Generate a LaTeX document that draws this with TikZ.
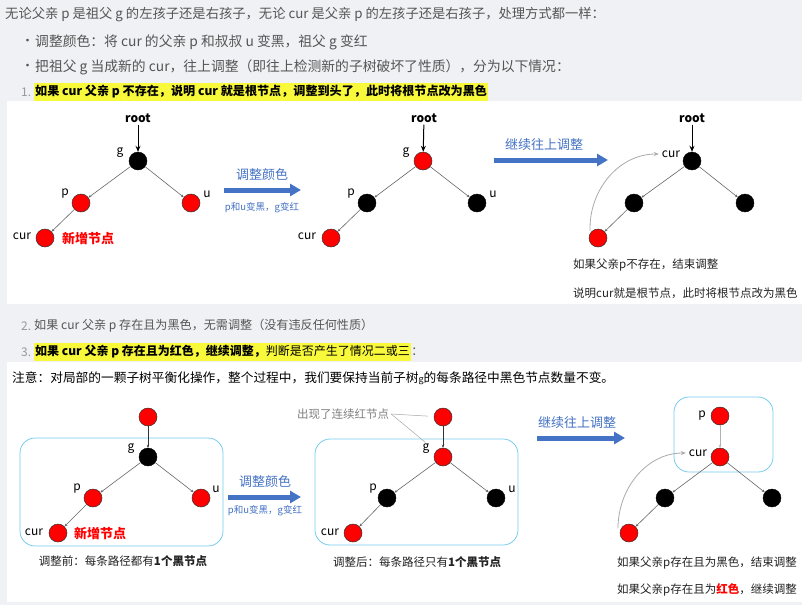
\documentclass[tikz,border=0pt]{standalone}
\usepackage{fontspec}
\newfontfamily\cjk{Noto Sans CJK SC}
\usetikzlibrary{arrows.meta}
\definecolor{pagebg}{HTML}{F0F1F5}
\definecolor{hdrgray}{HTML}{555555}
\definecolor{numgray}{HTML}{999999}
\definecolor{edgegray}{HTML}{666666}
\definecolor{curvegray}{HTML}{AAAAAA}
\definecolor{arrowblue}{HTML}{4472C4}
\definecolor{nodered}{HTML}{FF0000}
\definecolor{nodeedge}{HTML}{333333}
\definecolor{boxcyan}{HTML}{78CDEE}
\definecolor{hl}{HTML}{F9F93C}
\definecolor{capblack}{HTML}{222222}
\newcommand\fsz[1]{\fontsize{#1}{#1}\selectfont}
\begin{document}
\begin{tikzpicture}[x=1pt,y=-1pt,
  every node/.style={font=\cjk, inner sep=0pt},
  hdr/.style={font=\cjk\fsz{13}, text=hdrgray, anchor=west},
  num/.style={font=\cjk\fsz{12}, text=numgray, anchor=west},
  hlbox/.style={fill=hl, inner xsep=1pt, inner ysep=2.5pt, anchor=west, font=\cjk\fsz{12.1}, text=black},
  rb/.style={circle, minimum size=18pt, fill=nodered, draw=nodeedge, line width=0.5pt},
  bb/.style={circle, minimum size=18pt, fill=black, draw=black},
  lbl/.style={font=\cjk\fsz{12}, text=black},
  rootlbl/.style={font=\cjk\bfseries\fsz{12}, text=black},
  newlbl/.style={font=\cjk\bfseries\fsz{13}, text=nodered},
  edge/.style={draw=edgegray, line width=0.6pt, -{Stealth[length=3pt,width=2.5pt]}},
  rootarrow/.style={draw=black, line width=1pt, shorten <=2pt, -{Stealth[length=6pt,width=5pt]}},
  bluearrow/.style={draw=arrowblue, line width=5pt, -{Triangle[length=11pt,width=12pt]}},
  bluetxt/.style={font=\cjk\fsz{13}, text=arrowblue},
  bluesmall/.style={font=\cjk\fsz{9.5}, text=arrowblue},
  captxt/.style={font=\cjk\fsz{11.5}, text=capblack},
  capw/.style={captxt, anchor=west},
  cbox/.style={draw=boxcyan, line width=0.8pt, rounded corners=15pt},
  curve/.style={draw=curvegray, line width=0.8pt, -{Stealth[length=5pt,width=4pt]}},
  warn/.style={font=\cjk\fsz{11.5}, text=gray},
  warnline/.style={draw=gray!70, line width=0.5pt}
]
\useasboundingbox (0,0) rectangle (802,605);
\fill[pagebg] (0,0) rectangle (802,605);
\fill[white] (7,101) rectangle (802,304);
\fill[white] (7,362) rectangle (802,602);

% ---------- header text ----------
\node[hdr, font=\cjk\fsz{13.3}] (h1) at (5,15) {无论父亲 p 是祖父 g 的左孩子还是右孩子，无论 cur 是父亲 p 的左孩子还是右孩子，处理方式都一样：};
\node[hdr, font=\cjk\fsz{13}] (b1) at (21,42) {•};
\node[hdr, font=\cjk\fsz{13.8}] (h2) at (35,42) {调整颜色：将 cur 的父亲 p 和叔叔 u 变黑，祖父 g 变红};
\node[hdr, font=\cjk\fsz{13}] (b2) at (21,67) {•};
\node[hdr, font=\cjk\fsz{13.8}] (h3) at (35,67) {把祖父 g 当成新的 cur，往上调整（即往上检测新的子树破坏了性质），分为以下情况：};
\node[num] (n1) at (21,92) {1.};
\node[hlbox] (h4) at (34,92) {\bfseries 如果 cur 父亲 p 不存在，说明 cur 就是根节点，调整到头了，此时将根节点改为黑色};

% ---------- panel 1, tree 1 ----------
\node[rootlbl] (r1) at (138,118) {root};
\node[bb] (g1) at (138,161) {};
\node[lbl] (gl1) at (120,153) {g};
\node[rb] (p1) at (81,203) {};
\node[lbl] (pl1) at (65,194) {p};
\node[rb] (u1) at (191,203) {};
\node[lbl] (ul1) at (207,194) {u};
\node[rb] (c1) at (45,238) {};
\node[lbl] (cl1) at (22,236) {cur};
\node[newlbl] (nw1) at (88,239) {新增节点};
\draw[rootarrow] (r1) -- (g1);
\draw[edge] (g1) -- (p1);
\draw[edge] (g1) -- (u1);
\draw[edge] (p1) -- (c1);

\coordinate (a1s) at (224,190);
\coordinate (a1e) at (301,190);
\draw[bluearrow] (a1s) -- (a1e);
\node[bluetxt] (t1) at (262,175) {调整颜色};
\node[bluesmall] (s1) at (262,208) {p和u变黑，g变红};

% ---------- panel 1, tree 2 ----------
\node[rootlbl] (r2) at (424,118) {root};
\node[rb] (g2) at (423,161) {};
\node[lbl] (gl2) at (406,153) {g};
\node[bb] (p2) at (367,203) {};
\node[lbl] (pl2) at (351,194) {p};
\node[bb] (u2) at (477,203) {};
\node[lbl] (ul2) at (493,194) {u};
\node[rb] (c2) at (331,238) {};
\node[lbl] (cl2) at (307,236) {cur};
\draw[rootarrow] (r2) -- (g2);
\draw[edge] (g2) -- (p2);
\draw[edge] (g2) -- (u2);
\draw[edge] (p2) -- (c2);

\coordinate (a2s) at (494,160);
\coordinate (a2e) at (608,160);
\draw[bluearrow] (a2s) -- (a2e);
\node[bluetxt] (t2) at (544,145) {继续往上调整};

% ---------- panel 1, tree 3 ----------
\node[rootlbl] (r3) at (692,118) {root};
\node[bb] (g3) at (692,161) {};
\node[lbl] (gl3) at (671,154) {cur};
\node[bb] (p3) at (634,203) {};
\node[bb] (u3) at (745,203) {};
\node[rb] (c3) at (598,238) {};
\draw[rootarrow] (r3) -- (g3);
\draw[edge] (g3) -- (p3);
\draw[edge] (g3) -- (u3);
\draw[edge] (p3) -- (c3);
\draw[curve] ([xshift=-2pt]c3.130) to[out=92,in=180] ([xshift=-3pt]gl3.west);
\node[capw] (k1) at (573,265) {如果父亲p不存在，结束调整};
\node[capw] (k2) at (573,293) {说明cur就是根节点，此时将根节点改为黑色};

% ---------- panel 2 header ----------
\node[num] (n2) at (21,326) {2.};
\node[hdr, font=\cjk\fsz{12.1}] (h5) at (34,326) {如果 cur 父亲 p 存在且为黑色，无需调整（没有违反任何性质）};
\node[num] (n3) at (21,352) {3.};
\node[hlbox, font=\cjk\fsz{12}] (h6) at (34,352) {\bfseries 如果 cur 父亲 p 存在且为红色，继续调整，\mdseries 判断是否产生了情况二或三};
\node[hdr, font=\cjk\fsz{12}, anchor=west] (h6c) at (h6.east) {：};
\node[hdr, text=black, font=\cjk\fsz{12.7}] (h7) at (12,378) {注意：对局部的一颗子树平衡化操作，整个过程中，我们要保持当前子树{\fsz{9}g}的每条路径中黑色节点数量不变。};

% ---------- panel 2, tree A ----------
\draw[cbox] (20,438) rectangle (223,546);
\node[rb] (tA) at (148,417) {};
\node[bb] (gA) at (148,457) {};
\node[lbl] (glA) at (131,449) {g};
\node[rb] (pA) at (93,498) {};
\node[lbl] (plA) at (77,489) {p};
\node[rb] (uA) at (201,498) {};
\node[lbl] (ulA) at (216,489) {u};
\node[rb] (cA) at (58,533) {};
\node[lbl] (clA) at (34,532) {cur};
\node[newlbl] (nwA) at (100,534) {新增节点};
\draw[edge, draw=black!80] (tA) -- (gA);
\draw[edge] (gA) -- (pA);
\draw[edge] (gA) -- (uA);
\draw[edge] (pA) -- (cA);
\node[captxt] (capA) at (123,561) {调整前：每条路径都有\textbf{1个黑节点}};

\coordinate (aAs) at (228,497);
\coordinate (aAe) at (301,497);
\draw[bluearrow] (aAs) -- (aAe);
\node[bluetxt] (tAx) at (265,482) {调整颜色};
\node[bluesmall] (sA) at (265,511) {p和u变黑，g变红};

% ---------- panel 2, tree B ----------
\draw[cbox] (315,439) rectangle (518,545);
\node[rb] (tB) at (443,417) {};
\node[rb] (gB) at (443,457) {};
\node[lbl] (glB) at (426,449) {g};
\node[bb] (pB) at (387,498) {};
\node[lbl] (plB) at (373,489) {p};
\node[bb] (uB) at (496,498) {};
\node[lbl] (ulB) at (512,489) {u};
\node[rb] (cB) at (353,533) {};
\node[lbl] (clB) at (330,532) {cur};
\draw[edge, draw=black!80] (tB) -- (gB);
\draw[edge] (gB) -- (pB);
\draw[edge] (gB) -- (uB);
\draw[edge] (pB) -- (cB);
\node[warn] (wB) at (343,414) {出现了连续红节点};
\draw[warnline, shorten >=6pt] ([xshift=2pt]wB.east) -- (tB);
\draw[warnline, shorten >=14pt] ([xshift=2pt]wB.east) -- (gB);
\node[captxt] (capB) at (417,562) {调整后：每条路径只有\textbf{1个黑节点}};

\coordinate (aBs) at (537,438);
\coordinate (aBe) at (625,438);
\draw[bluearrow] (aBs) -- (aBe);
\node[bluetxt] (tBx) at (577,423) {继续往上调整};

% ---------- panel 2, tree C ----------
\draw[cbox] (674,397) rectangle (773,472);
\node[rb] (pC) at (720,416) {};
\node[lbl] (plC) at (702,416) {p};
\node[rb] (gC) at (720,457) {};
\node[lbl] (glC) at (698,453) {cur};
\node[bb] (lC) at (665,498) {};
\node[bb] (rC) at (772,498) {};
\node[rb] (cC) at (629,533) {};
\draw[edge, draw=gray!60] (pC) -- (gC);
\draw[edge] (gC) -- (lC);
\draw[edge] (gC) -- (rC);
\draw[edge] (lC) -- (cC);
\draw[curve] ([xshift=-3pt]cC.150) to[out=90,in=180] ([xshift=-3pt]glC.west);
\node[capw] (kC1) at (617,563) {如果父亲p存在且为黑色，结束调整};
\node[capw] (kC2) at (617,590) {如果父亲p存在且为\textcolor{nodered}{\bfseries 红色}，继续调整};
\end{tikzpicture}
\end{document}
